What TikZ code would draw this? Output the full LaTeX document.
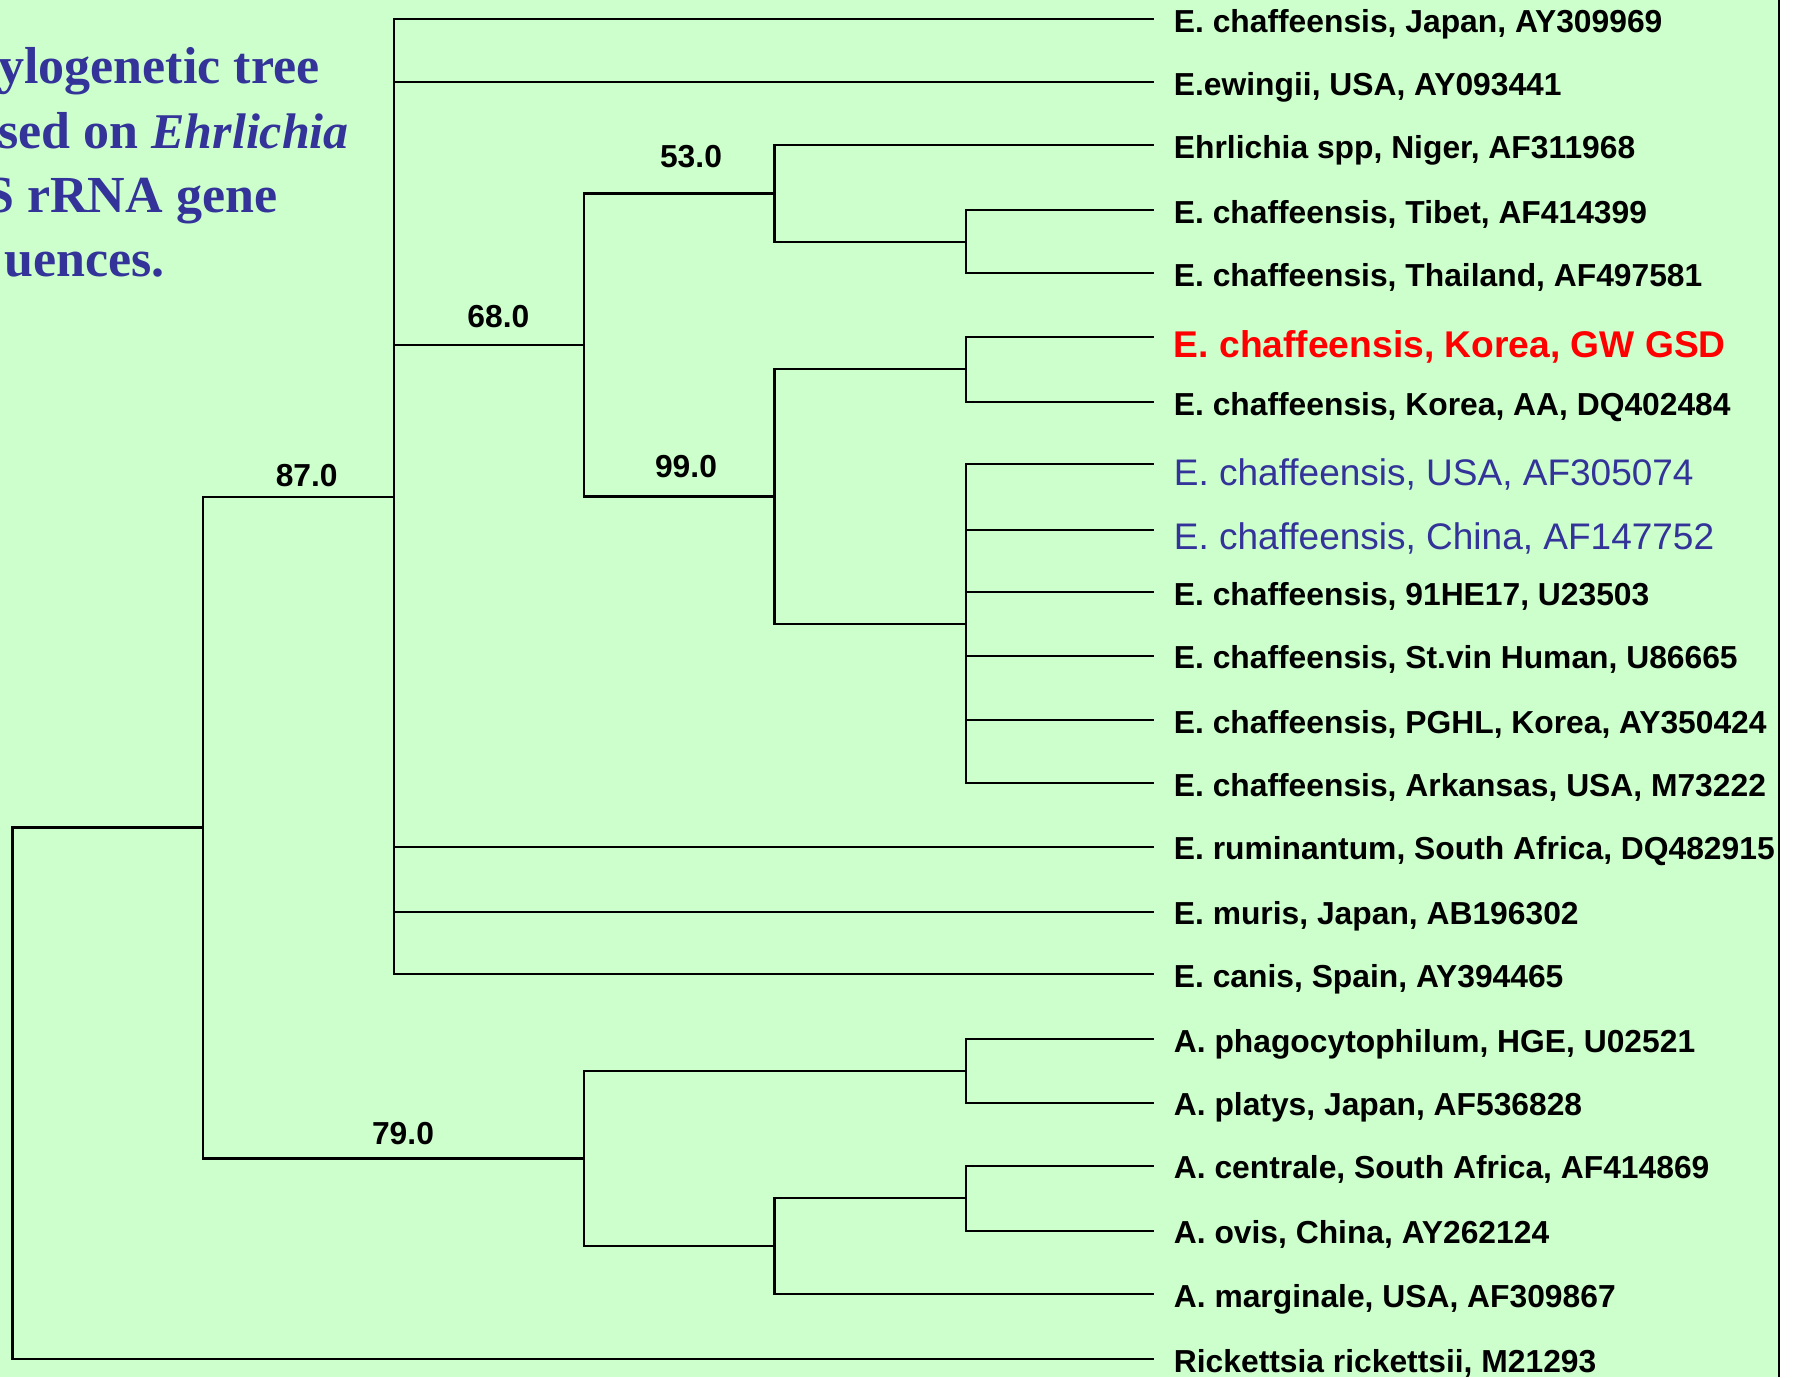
\documentclass[tikz,border=0pt]{standalone}
\usepackage{fontspec}
\setmainfont{Liberation Sans}
\newfontfamily\titlefont{Liberation Serif}
\definecolor{bgc}{HTML}{CCFFCC}
\definecolor{ttl}{HTML}{333399}
\definecolor{hlred}{HTML}{FF0000}
\begin{document}
\begin{tikzpicture}[x=0.5pt,y=-0.5pt,
  branch/.style={line width=1.15pt, line join=miter, black},
  leaflbl/.style={anchor=base west, inner sep=0pt, font=\fontsize{15.9}{18}\selectfont\bfseries},
  redlbl/.style={anchor=base west, inner sep=0pt, text=hlred, font=\fontsize{18.6}{21}\selectfont\bfseries},
  bluelbl/.style={anchor=base west, inner sep=0pt, text=ttl, font=\fontsize{18.5}{21}\selectfont},
  bootlbl/.style={anchor=base, inner sep=0pt, font=\fontsize{15.9}{18}\selectfont\bfseries},
  titlelbl/.style={anchor=base west, inner sep=0pt, text=ttl, font=\titlefont\fontsize{26}{30}\selectfont\bfseries}]
\useasboundingbox (0,0) rectangle (1798,1377);
\fill[bgc] (0,0) rectangle (1779,1377);
\fill[white] (1779,0) rectangle (1798,1377);
\draw[line width=0.75pt] (1779,0) -- (1779,1377);

% title (cut at the left edge, as in the reference)
\begin{scope}
\clip (0,0) rectangle (1779,1377);
\node[titlelbl] (ti1) at (-2,83.3) {ylogenetic tree};
\node[titlelbl] (ti2) at (-2,148.3) {sed on \textit{\fontsize{25}{30}\selectfont Ehrlichia}};
\node[titlelbl] (ti3) at (-15,212.7) {S rRNA gene};
\node[titlelbl] (ti4) at (4,276.7) {uences.};
\end{scope}

% leaf ends
\coordinate (l0) at (1154,19.3);
\coordinate (l1) at (1154,82.3);
\coordinate (l2) at (1154,145.3);
\coordinate (l3) at (1154,210.3);
\coordinate (l4) at (1154,273.3);
\coordinate (l5) at (1154,336.7);
\coordinate (l6) at (1154,401.7);
\coordinate (l7) at (1154,464.3);
\coordinate (l8) at (1154,530);
\coordinate (l9) at (1154,592.3);
\coordinate (l10) at (1154,655.7);
\coordinate (l11) at (1154,720);
\coordinate (l12) at (1154,783.3);
\coordinate (l13) at (1154,846.7);
\coordinate (l14) at (1154,911.7);
\coordinate (l15) at (1154,974);
\coordinate (l16) at (1154,1039);
\coordinate (l17) at (1154,1102.7);
\coordinate (l18) at (1154,1165.7);
\coordinate (l19) at (1154,1230.7);
\coordinate (l20) at (1154,1294);
\coordinate (l21) at (1154,1359);

% internal nodes
\coordinate (nTT) at (965.7,241.8);
\coordinate (n53) at (774.4,193.55);
\coordinate (nKor) at (965.7,369.2);
\coordinate (nPoly) at (965.7,623.8);
\coordinate (n99) at (774.4,496.5);
\coordinate (n68) at (584,345);
\coordinate (nE) at (394.3,496.65);
\coordinate (nPP) at (965.7,1070.85);
\coordinate (nCO) at (965.7,1198.2);
\coordinate (nM) at (774.4,1246.1);
\coordinate (n79) at (584,1158.5);
\coordinate (n87) at (203.3,827.6);
\coordinate (root) at (12.6,1093.3);

% branches
\draw[branch] (root) |- (n87);
\draw[branch] (root) |- (l21);
\draw[branch] (n87) |- (nE);
\draw[branch] (n87) |- (n79);
\foreach \c in {l0,l1,n68,l13,l14,l15} \draw[branch] (nE) |- (\c);
\draw[branch] (n68) |- (n53);
\draw[branch] (n68) |- (n99);
\draw[branch] (n53) |- (l2);
\draw[branch] (n53) |- (nTT);
\draw[branch] (nTT) |- (l3);
\draw[branch] (nTT) |- (l4);
\draw[branch] (n99) |- (nKor);
\draw[branch] (n99) |- (nPoly);
\draw[branch] (nKor) |- (l5);
\draw[branch] (nKor) |- (l6);
\foreach \c in {l7,l8,l9,l10,l11,l12} \draw[branch] (nPoly) |- (\c);
\draw[branch] (n79) |- (nPP);
\draw[branch] (n79) |- (nM);
\draw[branch] (nPP) |- (l16);
\draw[branch] (nPP) |- (l17);
\draw[branch] (nM) |- (nCO);
\draw[branch] (nM) |- (l20);
\draw[branch] (nCO) |- (l18);
\draw[branch] (nCO) |- (l19);

% bootstrap values
\node[bootlbl] (b87) at (306.7,486.7) {87.0};
\node[bootlbl] (b68) at (498.4,327) {68.0};
\node[bootlbl] (b53) at (691,167) {53.0};
\node[bootlbl] (b99) at (686,477) {99.0};
\node[bootlbl] (b79) at (403,1144.7) {79.0};

% leaf labels
\node[leaflbl] (t0) at (1173.5,32.3) {E. chaffeensis, Japan, AY309969};
\node[leaflbl] (t1) at (1173.5,95.3) {E.ewingii, USA, AY093441};
\node[leaflbl] (t2) at (1173.5,158.3) {Ehrlichia spp, Niger, AF311968};
\node[leaflbl] (t3) at (1173.5,223.3) {E. chaffeensis, Tibet, AF414399};
\node[leaflbl] (t4) at (1173.5,286.3) {E. chaffeensis, Thailand, AF497581};
\node[redlbl] (t5) at (1173.5,357.3) {E. chaffeensis, Korea, GW GSD};
\node[leaflbl] (t6) at (1173.5,415) {E. chaffeensis, Korea, AA, DQ402484};
\node[bluelbl] (t7) at (1173.5,485) {E. chaffeensis, USA, AF305074};
\node[bluelbl] (t8) at (1173.5,549) {E. chaffeensis, China, AF147752};
\node[leaflbl] (t9) at (1173.5,605.3) {E. chaffeensis, 91HE17, U23503};
\node[leaflbl] (t10) at (1173.5,668.7) {E. chaffeensis, St.vin Human, U86665};
\node[leaflbl] (t11) at (1173.5,733) {E. chaffeensis, PGHL, Korea, AY350424};
\node[leaflbl] (t12) at (1173.5,796.3) {E. chaffeensis, Arkansas, USA, M73222};
\node[leaflbl] (t13) at (1173.5,859.7) {E. ruminantum, South Africa, DQ482915};
\node[leaflbl] (t14) at (1173.5,924.7) {E. muris, Japan, AB196302};
\node[leaflbl] (t15) at (1173.5,987) {E. canis, Spain, AY394465};
\node[leaflbl] (t16) at (1173.5,1052) {A. phagocytophilum, HGE, U02521};
\node[leaflbl] (t17) at (1173.5,1115.7) {A. platys, Japan, AF536828};
\node[leaflbl] (t18) at (1173.5,1178.7) {A. centrale, South Africa, AF414869};
\node[leaflbl] (t19) at (1173.5,1243.7) {A. ovis, China, AY262124};
\node[leaflbl] (t20) at (1173.5,1307) {A. marginale, USA, AF309867};
\node[leaflbl] (t21) at (1173.5,1372) {Rickettsia rickettsii, M21293};
\end{tikzpicture}
\end{document}
